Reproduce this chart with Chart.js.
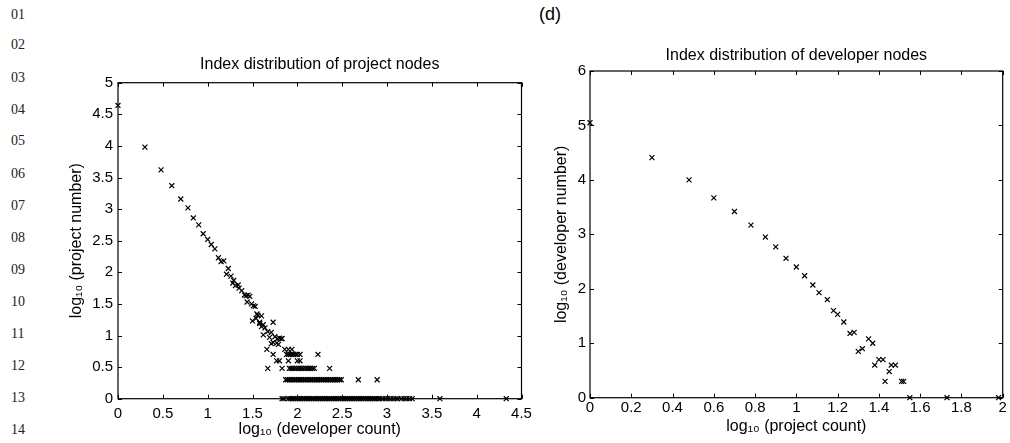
<!DOCTYPE html>
<html>
<head>
<meta charset="utf-8">
<script src="https://cdn.jsdelivr.net/npm/chart.js@4.4.1/dist/chart.umd.min.js"></script>
<style>
  body { margin: 0; background: #fff; width: 1010px; height: 443px; position: relative; overflow: hidden; font-family: "Liberation Sans", Arial, sans-serif; }
  .ln { position: absolute; left: 11px; font-family: "Liberation Serif", serif; font-size: 14px; line-height: 16px; color: #222; }
  #panelLabel { position: absolute; left: 539px; top: 4px; font-size: 18px; line-height: 20px; color: #000; }
  #wrapLeft { position: absolute; left: 0; top: 0; width: 550px; height: 443px; }
  #wrapRight { position: absolute; left: 550px; top: 0; width: 460px; height: 443px; }
</style>
</head>
<body>
<div class="ln" style="top:7px">01</div>
<div class="ln" style="top:37px">02</div>
<div class="ln" style="top:70px">03</div>
<div class="ln" style="top:102px">04</div>
<div class="ln" style="top:133px">05</div>
<div class="ln" style="top:166px">06</div>
<div class="ln" style="top:198px">07</div>
<div class="ln" style="top:230px">08</div>
<div class="ln" style="top:262px">09</div>
<div class="ln" style="top:294px">10</div>
<div class="ln" style="top:326px">11</div>
<div class="ln" style="top:358px">12</div>
<div class="ln" style="top:390px">13</div>
<div class="ln" style="top:422px">14</div>
<div id="panelLabel">(d)</div>

<div id="wrapLeft"><canvas id="projChart"></canvas></div>
<div id="wrapRight"><canvas id="devChart"></canvas></div>

<script>
/* DATA - left panel: project nodes */
// main curve (log10 developer count, log10 project number)
const projCurveX = [0, 0.30, 0.48, 0.60, 0.70, 0.78, 0.84, 0.90, 0.95, 1.00,
    1.04, 1.08, 1.12, 1.15, 1.18, 1.21, 1.23, 1.26, 1.28, 1.29,
    1.31, 1.34, 1.35, 1.38, 1.41, 1.43, 1.45, 1.47, 1.44, 1.49,
    1.51, 1.53, 1.50, 1.54, 1.56, 1.60, 1.58, 1.62, 1.60, 1.64,
    1.62, 1.67, 1.71, 1.73, 1.69, 1.75, 1.78, 1.80, 1.73, 1.77,
    1.79, 1.71, 1.83, 1.82, 1.55, 1.58];
const projCurveY = [4.64, 3.98, 3.62, 3.37, 3.16, 3.02, 2.86, 2.75, 2.61, 2.52,
    2.44, 2.37, 2.23, 2.17, 2.18, 1.97, 2.06, 1.94, 1.83, 1.87,
    1.79, 1.80, 1.75, 1.71, 1.64, 1.63, 1.64, 1.62, 1.53, 1.50,
    1.47, 1.46, 1.23, 1.27, 1.32, 1.31, 1.19, 1.17, 1.14, 1.12,
    1.01, 1.06, 1.05, 1.21, 0.97, 0.98, 0.95, 0.96, 0.89, 0.88,
    0.86, 0.87, 0.95, 0.95, 1.34, 1.21];

// flat rows (project number = 6, 5, 4, 3, 2, 1)
const rowLevels = [0.78, 0.70, 0.60, 0.48, 0.30, 0];
const row6X = [1.66, 1.86, 1.90, 1.94];
const row5X = [1.73, 1.88, 1.90, 1.92, 1.94, 1.96, 1.98, 2.00, 2.03, 2.23];
const row4X = [1.77, 1.80, 1.90, 2.00, 2.03];
const row3X = [1.67, 1.83, 1.91, 1.93, 1.95, 1.97, 1.99, 2.01, 2.03, 2.05,
    2.07, 2.09, 2.11, 2.13, 2.15, 2.17, 2.19, 2.36];
const row2X = [1.87, 1.89, 1.91, 1.93, 1.95, 1.97, 1.99, 2.01, 2.03, 2.05,
    2.07, 2.09, 2.11, 2.13, 2.15, 2.17, 2.19, 2.21, 2.23, 2.25,
    2.27, 2.29, 2.31, 2.33, 2.35, 2.37, 2.39, 2.41, 2.43, 2.45,
    2.47, 2.49, 2.68, 2.89];
const row1X = [1.83, 1.85, 1.90, 1.92, 1.94, 1.96, 1.98, 2.00, 2.02, 2.04,
    2.06, 2.08, 2.10, 2.12, 2.14, 2.16, 2.18, 2.20, 2.22, 2.24,
    2.26, 2.28, 2.30, 2.32, 2.34, 2.36, 2.38, 2.40, 2.42, 2.44,
    2.46, 2.48, 2.50, 2.52, 2.54, 2.56, 2.58, 2.60, 2.62, 2.64,
    2.66, 2.68, 2.70, 2.72, 2.74, 2.76, 2.78, 2.80, 2.82, 2.84,
    2.86, 2.88, 2.90, 2.92, 2.95, 2.98, 3.01, 3.04, 3.07, 3.10,
    3.12, 3.16, 3.19, 3.22, 3.25, 3.28, 3.59, 4.33];

/* DATA - right panel: developer nodes */
const devCountX = [0, 0.30, 0.48, 0.60, 0.70, 0.78, 0.85, 0.90, 0.95, 1.00,
    1.04, 1.08, 1.11, 1.15, 1.18, 1.20, 1.23, 1.26, 1.28, 1.30,
    1.32, 1.35, 1.37, 1.38, 1.40, 1.42, 1.43, 1.45, 1.46, 1.48,
    1.51, 1.52, 1.55, 1.73, 1.98];
const devNumY = [5.05, 4.41, 4.00, 3.67, 3.42, 3.17, 2.95, 2.77, 2.56, 2.40,
    2.24, 2.07, 1.93, 1.80, 1.60, 1.53, 1.39, 1.18, 1.20, 0.85,
    0.90, 1.08, 1.00, 0.60, 0.70, 0.70, 0.30, 0.48, 0.60, 0.60,
    0.30, 0.30, 0, 0, 0];

/*****************************************************************/

// Build point lists
const projPoints = projCurveX.map((x, i) => ({ x: x, y: projCurveY[i] }));
[row6X, row5X, row4X, row3X, row2X, row1X].forEach((row, r) => {
    row.forEach(x => projPoints.push({ x: x, y: rowLevels[r] }));
});
const devPoints = devCountX.map((x, i) => ({ x: x, y: devNumY[i] }));

// Box frame with inward ticks + title (MATLAB look)
const frameTicks = {
    id: 'frameTicks',
    afterDraw(chart) {
        const { ctx, chartArea: a, scales: { x, y } } = chart;
        const len = 4;
        ctx.save();
        ctx.strokeStyle = '#000';
        ctx.lineWidth = 1.2;
        ctx.strokeRect(a.left, a.top, a.right - a.left, a.bottom - a.top);
        ctx.lineWidth = 1;
        ctx.beginPath();
        x.ticks.forEach(t => {
            const px = Math.round(x.getPixelForValue(t.value)) + 0.5;
            ctx.moveTo(px, a.bottom); ctx.lineTo(px, a.bottom - len);
            ctx.moveTo(px, a.top); ctx.lineTo(px, a.top + len);
        });
        y.ticks.forEach(t => {
            const py = Math.round(y.getPixelForValue(t.value)) + 0.5;
            ctx.moveTo(a.left, py); ctx.lineTo(a.left + len, py);
            ctx.moveTo(a.right, py); ctx.lineTo(a.right - len, py);
        });
        ctx.stroke();
        // chart title
        const opts = chart.options.plugins.frameTicks;
        ctx.fillStyle = '#000';
        ctx.font = '16px "Liberation Sans", Arial, sans-serif';
        ctx.textAlign = 'center';
        ctx.textBaseline = 'middle';
        ctx.fillText(opts.title, (a.left + a.right) / 2, a.top - opts.titleGap);
        ctx.restore();
    }
};

const tickFont = { family: '"Liberation Sans", Arial, sans-serif', size: 15 };
const titleFont = { family: '"Liberation Sans", Arial, sans-serif', size: 16 };

// 5 -> "5", 0.5 -> "0.5", 0.6000001 -> "0.6"
function tickLabel(value) {
    return String(Number(value.toFixed(2)));
}

function makeOptions(cfg) {
    return {
        responsive: true,
        maintainAspectRatio: false,
        animation: false,
        events: [],
        layout: { padding: cfg.padding },
        plugins: {
            legend: { display: false },
            tooltip: { enabled: false },
            frameTicks: { title: cfg.title, titleGap: cfg.titleGap }
        },
        scales: {
            x: {
                type: 'linear',
                min: cfg.xMin, max: cfg.xMax,
                grid: { display: false, drawTicks: false },
                border: { display: false },
                ticks: { stepSize: cfg.xStep, autoSkip: false, maxRotation: 0, padding: cfg.xTickPad, color: '#000', font: tickFont, callback: tickLabel },
                title: { display: true, text: cfg.xTitle, color: '#000', font: titleFont, padding: { top: 0, bottom: cfg.xTitlePad } },
                afterFit(scale) { scale.height = cfg.xHeight; }
            },
            y: {
                type: 'linear',
                min: cfg.yMin, max: cfg.yMax,
                grid: { display: false, drawTicks: false },
                border: { display: false },
                ticks: { stepSize: cfg.yStep, autoSkip: false, padding: cfg.yTickPad, color: '#000', font: tickFont, callback: tickLabel },
                title: { display: true, text: cfg.yTitle, color: '#000', font: titleFont, padding: { top: cfg.yTitlePad, bottom: 0 } },
                afterFit(scale) { scale.width = cfg.yWidth; }
            }
        }
    };
}

const pointStyle = {
    pointStyle: 'crossRot',
    pointRadius: 3.5,
    borderColor: '#000',
    backgroundColor: '#000',
    borderWidth: 1.2,
    showLine: false,
    clip: false
};

// Left chart
new Chart(document.getElementById('projChart').getContext('2d'), {
    type: 'scatter',
    data: { datasets: [Object.assign({ label: 'project nodes', data: projPoints }, pointStyle)] },
    options: makeOptions({
        padding: { left: 60, right: 28.5, top: 82.7, bottom: 0 },
        title: 'Index distribution of project nodes', titleGap: 18,
        xMin: 0, xMax: 4.5, xStep: 0.5, xTickPad: 6, xTitle: 'log\u2081\u2080 (developer count)', xTitlePad: 3.4, xHeight: 44.3,
        yMin: 0, yMax: 5, yStep: 0.5, yTickPad: 5, yTitle: 'log\u2081\u2080 (project number)', yTitlePad: 7.4, yWidth: 58
    }),
    plugins: [frameTicks]
});

// Right chart
new Chart(document.getElementById('devChart').getContext('2d'), {
    type: 'scatter',
    data: { datasets: [Object.assign({ label: 'developer nodes', data: devPoints }, pointStyle)] },
    options: makeOptions({
        padding: { left: 0, right: 7.3, top: 71, bottom: 0 },
        title: 'Index distribution of developer nodes', titleGap: 15,
        xMin: 0, xMax: 2, xStep: 0.2, xTickPad: 1, xTitle: 'log\u2081\u2080 (project count)', xTitlePad: 6.4, xHeight: 45.3,
        yMin: 0, yMax: 6, yStep: 1, yTickPad: 4, yTitle: 'log\u2081\u2080 (developer number)', yTitlePad: 2.4, yWidth: 40
    }),
    plugins: [frameTicks]
});
</script>
</body>
</html>
